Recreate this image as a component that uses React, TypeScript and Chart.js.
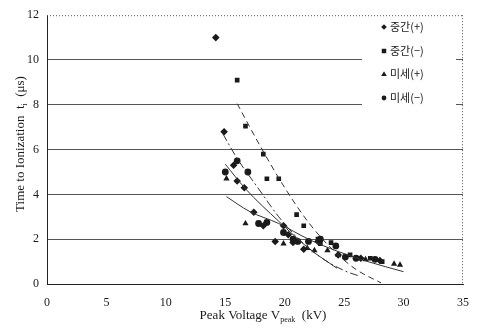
import React, { useEffect, useRef } from "react";
import { Chart, registerables } from "chart.js";

Chart.register(...registerables);

// 중간(+) — diamonds
const midPosX = [14.2, 14.9, 15.7, 16.0, 16.6, 17.4, 18.2, 19.2, 19.9, 20.3, 20.7, 21.6, 22.8, 24.5, 26.4, 28.0];
const midPosY = [11.0, 6.8, 5.3, 4.6, 4.3, 3.2, 2.6, 1.9, 2.6, 2.2, 1.85, 1.55, 1.9, 1.3, 1.15, 1.05];
// 중간(−) — squares
const midNegX = [16.0, 16.7, 18.2, 18.5, 19.5, 21.0, 21.6, 22.8, 23.0, 23.9, 25.5, 27.2, 28.2];
const midNegY = [9.1, 7.05, 5.8, 4.7, 4.7, 3.1, 2.6, 2.0, 1.8, 1.85, 1.3, 1.15, 1.0];
// 미세(+) — triangles
const finePosX = [15.1, 16.7, 19.9, 21.9, 22.5, 23.6, 24.5, 26.8, 29.2, 29.7];
const finePosY = [4.7, 2.7, 1.8, 1.6, 1.5, 1.5, 1.3, 1.1, 0.9, 0.85];
// 미세(−) — circles
const fineNegX = [15.0, 16.0, 16.9, 17.8, 18.5, 19.9, 20.7, 21.1, 22.0, 23.0, 24.3, 25.1, 26.0, 27.6];
const fineNegY = [5.0, 5.5, 5.0, 2.7, 2.75, 2.3, 2.0, 1.9, 1.9, 2.0, 1.7, 1.2, 1.15, 1.1];

// trend lines
const trend1X = [16.0, 18.0, 20.0, 22.0, 24.0, 26.0, 28.1];
const trend1Y = [8.05, 6.1, 4.3, 2.75, 1.55, 0.65, 0.05];
const trend2X = [14.8, 16.0, 17.6, 19.5, 21.0, 23.0, 25.0, 26.3];
const trend2Y = [6.7, 5.6, 4.4, 3.0, 2.1, 1.2, 0.6, 0.35];
const trend3X = [15.0, 16.7, 19.5, 22.0, 24.4];
const trend3Y = [5.35, 4.25, 2.8, 1.6, 0.7];
const trend4X = [15.1, 17.0, 19.5, 22.0, 24.5, 27.0, 30.0];
const trend4Y = [3.9, 3.25, 2.7, 2.0, 1.45, 1.0, 0.55];

const legendLabels = ["중간(+)", "중간(−)", "미세(+)", "미세(−)"];
const legendStyles = ["rectRot", "rect", "triangle", "circle"];

const xTickMin = 0, xTickMax = 35, xStep = 5;
const yTickMin = 0, yTickMax = 12, yStep = 2;

const pts = (xs: number[], ys: number[]) => xs.map((x, i) => ({ x, y: ys[i] }));

const SERIF = "'Liberation Serif', 'DejaVu Serif', serif";
const INK = "#1a1a1a";

function drawMarker(ctx: CanvasRenderingContext2D, style: string, x: number, y: number, r: number) {
  ctx.beginPath();
  if (style === "rectRot") {
    ctx.moveTo(x, y - r); ctx.lineTo(x + r, y); ctx.lineTo(x, y + r); ctx.lineTo(x - r, y); ctx.closePath();
  } else if (style === "rect") {
    ctx.rect(x - r * 0.8, y - r * 0.8, r * 1.6, r * 1.6);
  } else if (style === "triangle") {
    ctx.moveTo(x, y - r); ctx.lineTo(x + r, y + r * 0.75); ctx.lineTo(x - r, y + r * 0.75); ctx.closePath();
  } else {
    ctx.arc(x, y, r * 0.85, 0, Math.PI * 2);
  }
  ctx.fill();
}

const decorPlugin = {
  id: "decor",
  afterDraw(chart: any) {
    const ctx: CanvasRenderingContext2D = chart.ctx;
    const xs = chart.scales.x, ys = chart.scales.y;
    const L = xs.getPixelForValue(xTickMin), R = xs.getPixelForValue(xTickMax);
    const T = ys.getPixelForValue(yTickMax), B = ys.getPixelForValue(yTickMin);
    ctx.save();
    // dotted top & right frame
    ctx.strokeStyle = "#555";
    ctx.lineWidth = 1;
    ctx.setLineDash([1, 2]);
    ctx.beginPath();
    ctx.moveTo(L, T + 0.5); ctx.lineTo(R, T + 0.5);
    ctx.moveTo(R - 0.5, T); ctx.lineTo(R - 0.5, B);
    ctx.stroke();
    ctx.setLineDash([]);

    // legend
    ctx.fillStyle = "#fff";
    ctx.fillRect(362, 17, 94, 90);
    const rows = [27, 51, 74, 98];
    ctx.fillStyle = INK;
    ctx.font = "11px 'Noto Sans CJK KR', sans-serif";
    ctx.textBaseline = "middle";
    ctx.textAlign = "left";
    legendLabels.forEach((lab, i) => {
      drawMarker(ctx, legendStyles[i], 384, rows[i], 2.8);
      ctx.fillText(lab, 390, rows[i]);
    });

    // x title
    ctx.font = `13px ${SERIF}`;
    ctx.textBaseline = "alphabetic";
    const p1 = "Peak Voltage V";
    const sub = "peak";
    const p2 = "  (kV)";
    const w1 = ctx.measureText(p1).width;
    ctx.font = `8px ${SERIF}`;
    const ws = ctx.measureText(sub).width;
    ctx.font = `13px ${SERIF}`;
    const w2 = ctx.measureText(p2).width;
    const x0 = 263 - (w1 + ws + w2) / 2;
    const ty = 319;
    ctx.fillText(p1, x0, ty);
    ctx.font = `8px ${SERIF}`;
    ctx.fillText(sub, x0 + w1, ty + 3);
    ctx.font = `13px ${SERIF}`;
    ctx.fillText(p2, x0 + w1 + ws, ty);

    // y title (rotated)
    ctx.translate(24, 144);
    ctx.rotate(-Math.PI / 2);
    const q1 = "Time to Ionization  t";
    const qs = "i";
    const q2 = "  (\u03bcs)";
    ctx.font = `13px ${SERIF}`;
    const v1 = ctx.measureText(q1).width;
    ctx.font = `8px ${SERIF}`;
    const vs = ctx.measureText(qs).width;
    ctx.font = `13px ${SERIF}`;
    const v2 = ctx.measureText(q2).width;
    const y0 = -(v1 + vs + v2) / 2;
    ctx.fillText(q1, y0, 0);
    ctx.font = `8px ${SERIF}`;
    ctx.fillText(qs, y0 + v1, 3);
    ctx.font = `13px ${SERIF}`;
    ctx.fillText(q2, y0 + v1 + vs, 0);
    ctx.restore();
  },
};

export default function App() {
  const ref = useRef<HTMLCanvasElement>(null);
  useEffect(() => {
    if (!ref.current) return;
    const lineDs = (xs: number[], ys: number[], dash: number[], label: string) => ({
      type: "line" as const,
      label,
      data: pts(xs, ys),
      borderColor: "#333",
      borderWidth: 1,
      borderDash: dash,
      pointRadius: 0,
      fill: false,
      cubicInterpolationMode: "monotone",
      showLine: true,
    });
    const scatterDs = (xs: number[], ys: number[], style: string, label: string, r: number) => ({
      type: "scatter" as const,
      label,
      data: pts(xs, ys),
      pointStyle: style,
      pointRadius: r,
      backgroundColor: INK,
      borderColor: INK,
      borderWidth: 0,
    });
    const chart = new Chart(ref.current, {
      type: "scatter",
      data: {
        datasets: [
          lineDs(trend1X, trend1Y, [6, 4], "t1"),
          lineDs(trend2X, trend2Y, [8, 3, 2, 3], "t2"),
          lineDs(trend3X, trend3Y, [], "t3"),
          lineDs(trend4X, trend4Y, [], "t4"),
          scatterDs(midPosX, midPosY, "rectRot", legendLabels[0], 3.8),
          scatterDs(midNegX, midNegY, "rect", legendLabels[1], 3.3),
          scatterDs(finePosX, finePosY, "triangle", legendLabels[2], 3.6),
          scatterDs(fineNegX, fineNegY, "circle", legendLabels[3], 3.4),
        ] as any,
      },
      options: {
        animation: false,
        responsive: false,
        maintainAspectRatio: false,
        layout: { padding: { top: 10, right: 15, left: 0, bottom: 0 } },
        plugins: { legend: { display: false }, tooltip: { enabled: false } },
        scales: {
          x: {
            type: "linear",
            min: xTickMin,
            max: xTickMax,
            ticks: { stepSize: xStep, color: INK, font: { family: SERIF, size: 12 }, padding: 12 },
            grid: { display: false, drawTicks: false },
            border: { display: true, color: "#222", width: 1 },
            afterFit: (s: any) => { s.height = 47; },
          },
          y: {
            type: "linear",
            min: yTickMin,
            max: yTickMax,
            ticks: { stepSize: yStep, color: INK, font: { family: SERIF, size: 12 }, padding: 8 },
            grid: {
              drawTicks: false,
              color: (c: any) => (c.tick && (c.tick.value === 0 || c.tick.value === 12) ? "rgba(0,0,0,0)" : "#555"),
              lineWidth: 1,
            },
            border: { display: true, color: "#222", width: 1 },
            afterFit: (s: any) => { s.width = 47; },
          },
        },
      },
      plugins: [decorPlugin],
    });
    return () => chart.destroy();
  }, []);
  return (
    <div style={{ position: "fixed", left: 0, top: 0, width: 481, height: 331, background: "#fff" }}>
      <canvas ref={ref} width={481} height={331} style={{ width: 481, height: 331 }} />
    </div>
  );
}
